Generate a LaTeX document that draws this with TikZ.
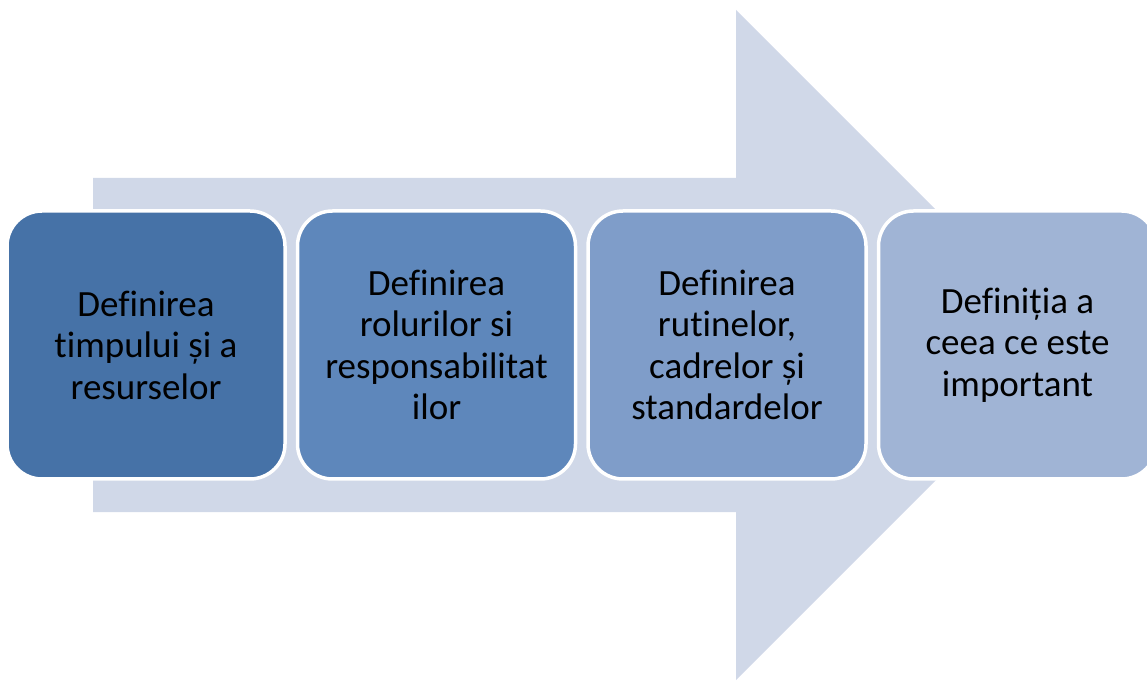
\documentclass[tikz,border=0pt]{standalone}
\usepackage{fontspec}
\setmainfont{Carlito}[Ligatures=NoCommon]
\definecolor{arrowfill}{HTML}{D0D8E8}
\definecolor{stepA}{HTML}{4672A7}
\definecolor{stepB}{HTML}{5E87BB}
\definecolor{stepC}{HTML}{7F9DC9}
\definecolor{stepD}{HTML}{A0B4D5}
\tikzset{
  stepbox/.style={draw=white, line width=3.5pt, rounded corners=35pt,
    minimum width=278pt, minimum height=268pt, align=center,
    font=\fontsize{37pt}{41.5pt}\selectfont, text=black, inner sep=0pt}
}
\begin{document}
\begin{tikzpicture}[x=1pt,y=1pt]
  \useasboundingbox (0,0) rectangle (1147,680);
  % large background arrow
  \fill[arrowfill] (93,168) -- (736,168) -- (736,0) -- (1071,335)
    -- (736,670) -- (736,502) -- (93,502) -- cycle;
  % process steps
  \node[stepbox, fill=stepA] (s1) at (146,335) {Definirea\\timpului și a\\resurselor};
  \node[stepbox, fill=stepB] (s2) at (436.5,335) {Definirea\\rolurilor si\\responsabilitat\\ilor};
  \node[stepbox, fill=stepC] (s3) at (727,335) {Definirea\\rutinelor,\\cadrelor și\\standardelor};
  \node[stepbox, fill=stepD] (s4) at (1017.5,335) {Definiția a\\ceea ce este\\important};
\end{tikzpicture}
\end{document}
